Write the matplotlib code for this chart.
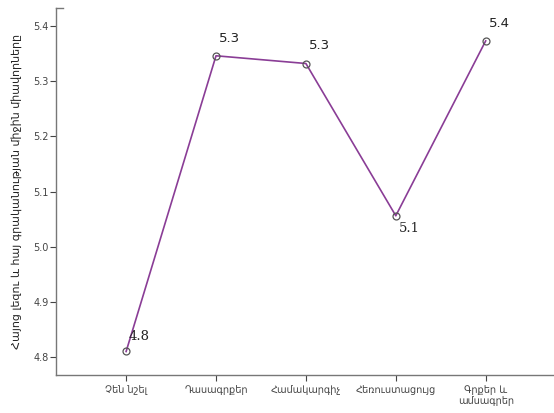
import matplotlib
matplotlib.use("Agg")
import matplotlib.pyplot as plt

categories = ["Չեն նշել", "Դասագրքեր", "Համակարգիչ", "Հեռուստացույց", "Գրքեր և\nամսագրեր"]
means = [4.810, 5.346, 5.332, 5.056, 5.373]
point_labels = ["4.8", "5.3", "5.3", "5.1", "5.4"]
y_ticks = [4.8, 4.9, 5.0, 5.1, 5.2, 5.3, 5.4]
y_title = "Հայոց լեզու և հայ գրականության միջին միավորները"

plt.rcParams['font.family'] = ['DejaVu Sans']

fig = plt.figure(figsize=(5.54, 4.13), dpi=100)
W, H = 554, 413
ax = fig.add_axes([56 / W, 1 - 375 / H, (554 - 56) / W, (375 - 8) / H])

x = list(range(len(categories)))
ax.plot(x, means, color="#8a3d96", linewidth=1.2, zorder=2)
ax.plot(x, means, linestyle="none", marker="o", markersize=5,
        markerfacecolor="none", markeredgecolor="#555555", markeredgewidth=0.9, zorder=3)

# value labels next to points
offsets = [(2, 6), (2, 8), (2, 8), (2, -14), (2, 8)]
fams = ["DejaVu Serif", "DejaVu Sans", "DejaVu Sans", "DejaVu Serif", "DejaVu Sans"]
for i, (v, lab) in enumerate(zip(means, point_labels)):
    ax.annotate(lab, (i, v), xytext=offsets[i], textcoords="offset points",
                fontsize=9.5, family=fams[i], color="#222222", ha="left", va="bottom")

ax.set_xlim(-0.78, 4.76)
ax.set_ylim(4.7674, 5.4326)
ax.set_yticks(y_ticks)
ax.set_yticklabels([f"{t:.1f}" for t in y_ticks])
ax.set_xticks(x)
ax.set_xticklabels(categories)
ax.tick_params(axis="both", labelsize=7, colors="#444444", length=4, width=0.8)
ax.tick_params(axis="x", pad=3)
ax.tick_params(axis="y", pad=1.5)

ax.spines["top"].set_visible(False)
ax.spines["right"].set_visible(False)
for s in ["left", "bottom"]:
    ax.spines[s].set_color("#777777")
    ax.spines[s].set_linewidth(1.0)
# small cap at top of the y axis
ax.plot([-0.78, -0.70], [5.4326, 5.4326], color="#777777", linewidth=1.0,
        clip_on=False, transform=ax.transData)

ax.set_ylabel(y_title, fontsize=8, color="#222222", labelpad=8)

fig.savefig("out.png", dpi=100)
